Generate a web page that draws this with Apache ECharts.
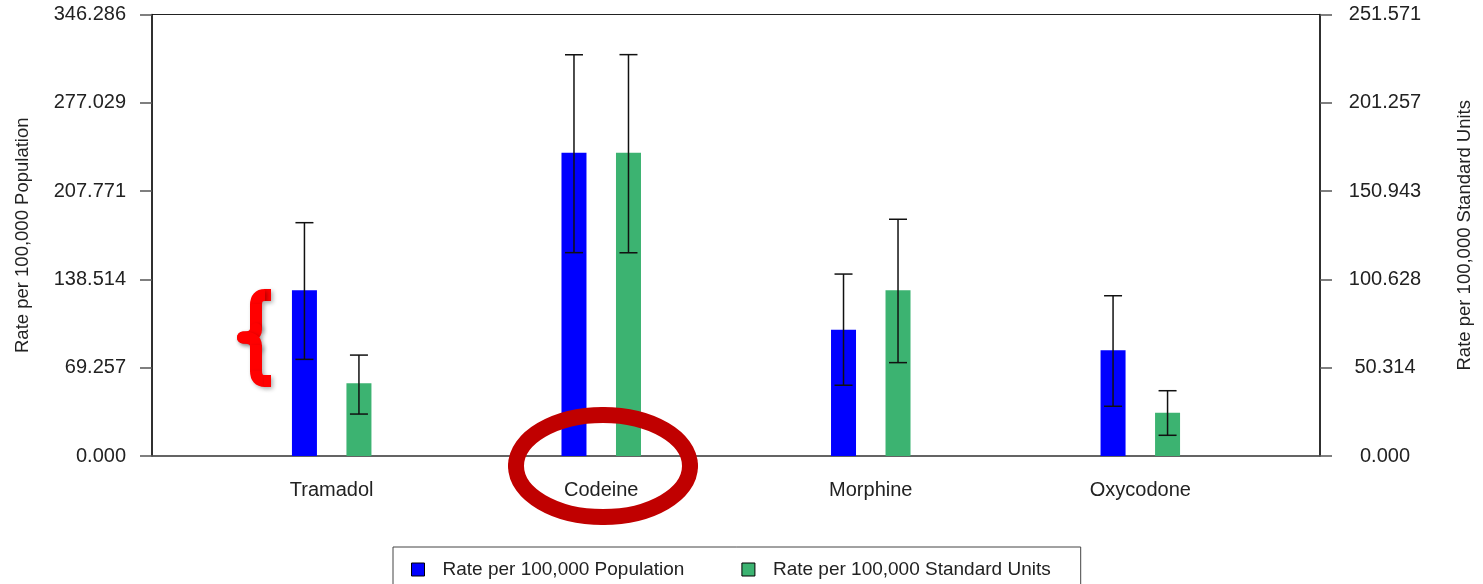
<!DOCTYPE html>
<html>
<head>
<meta charset="utf-8">
<script src="https://cdn.jsdelivr.net/npm/echarts@6/dist/echarts.min.js"></script>
<style>html,body{margin:0;padding:0;background:#fff;}#c{width:1483px;height:584px;}</style>
</head>
<body>
<div id="c"></div>
<script>
// ---- data ----
const categories = ['Tramadol', 'Codeine', 'Morphine', 'Oxycodone'];
const popRate = [130.0, 237.9, 99.1, 82.9];
const popLow = [75.8, 159.5, 55.5, 39.0];
const popHigh = [183.0, 314.7, 142.7, 125.7];
const unitRate = [41.4, 172.8, 94.4, 24.7];
const unitLow = [23.9, 115.8, 53.2, 11.8];
const unitHigh = [57.5, 228.7, 134.9, 37.2];
const leftMax = 346.2858;
const rightMax = 251.571;
const seriesNames = ['Rate per 100,000 Population', 'Rate per 100,000 Standard Units'];
const axisNames = ['Rate per 100,000 Population', 'Rate per 100,000 Standard Units'];

// ---- layout helpers (category slots padded so categories sit 3 slots apart) ----
const slots = 14;
const slotIndex = categories.map((c, i) => 2 + 3 * i);
const axisCats = Array.from({length: slots}, () => '');
categories.forEach((c, i) => { axisCats[slotIndex[i]] = c; });

const barWidth = 25;
const barGapRatio = 1.18;
const halfOffset = (barWidth + barWidth * barGapRatio) / 2;

const FONT = 'Liberation Sans, Arial, sans-serif';
const TXT = '#222';

function barData(vals) { return vals.map((v, i) => [slotIndex[i], v]); }
function errData(lo, hi) { return lo.map((v, i) => [slotIndex[i], v, hi[i]]); }
function errRender(sign) {
  return function (params, api) {
    const pLo = api.coord([api.value(0), api.value(1)]);
    const pHi = api.coord([api.value(0), api.value(2)]);
    const x = pLo[0] + sign * halfOffset;
    const cap = 9;
    const st = {stroke: '#111', lineWidth: 1.5};
    return {
      type: 'group',
      children: [
        {type: 'line', shape: {x1: x, y1: pLo[1], x2: x, y2: pHi[1]}, style: st},
        {type: 'line', shape: {x1: x - cap, y1: pHi[1], x2: x + cap, y2: pHi[1]}, style: st},
        {type: 'line', shape: {x1: x - cap, y1: pLo[1], x2: x + cap, y2: pLo[1]}, style: st}
      ]
    };
  };
}

// ---- annotation shapes (not data) ----
function ellipseCurves(cx, cy, rx, ry, style) {
  const k = 0.5523;
  const q = [
    [cx + rx, cy, cx + rx, cy + k * ry, cx + k * rx, cy + ry, cx, cy + ry],
    [cx, cy + ry, cx - k * rx, cy + ry, cx - rx, cy + k * ry, cx - rx, cy],
    [cx - rx, cy, cx - rx, cy - k * ry, cx - k * rx, cy - ry, cx, cy - ry],
    [cx, cy - ry, cx + k * rx, cy - ry, cx + rx, cy - k * ry, cx + rx, cy]
  ];
  return q.map(a => ({
    type: 'bezierCurve', z: 100,
    shape: {x1: a[0], y1: a[1], cpx1: a[2], cpy1: a[3], cpx2: a[4], cpy2: a[5], x2: a[6], y2: a[7]},
    style: style
  }));
}
const braceStyle = {fill: null, stroke: '#FF0000', lineWidth: 12, lineCap: 'butt', shadowBlur: 4, shadowColor: 'rgba(0,0,0,0.3)', shadowOffsetX: 2, shadowOffsetY: 2};
const braceRound = Object.assign({}, braceStyle, {lineCap: 'round'});
const braceParts = [
  {type: 'line', shape: {x1: 264, y1: 295, x2: 271, y2: 295}, style: braceStyle},
  {type: 'bezierCurve', shape: {x1: 256, y1: 305, cpx1: 256, cpy1: 295, x2: 265, y2: 295}, style: braceStyle},
  {type: 'line', shape: {x1: 256, y1: 304, x2: 256, y2: 330}, style: braceStyle},
  {type: 'bezierCurve', shape: {x1: 256, y1: 329, cpx1: 256, cpy1: 337.5, x2: 243, y2: 337.5}, style: braceRound},
  {type: 'bezierCurve', shape: {x1: 243, y1: 337.5, cpx1: 256, cpy1: 337.5, x2: 256, y2: 346}, style: braceRound},
  {type: 'line', shape: {x1: 256, y1: 345, x2: 256, y2: 372}, style: braceStyle},
  {type: 'bezierCurve', shape: {x1: 256, y1: 371, cpx1: 256, cpy1: 381, x2: 265, y2: 381}, style: braceStyle},
  {type: 'line', shape: {x1: 264, y1: 381, x2: 271, y2: 381}, style: braceStyle}
].map(p => Object.assign(p, {z: 100}));

const chart = echarts.init(document.getElementById('c'), null, {renderer: 'canvas'});
chart.setOption({
  backgroundColor: '#fff',
  animation: false,
  textStyle: {fontFamily: FONT},
  grid: {left: 152, right: 163, top: 14.5, bottom: 128, show: true, borderColor: '#222', borderWidth: 1, backgroundColor: 'transparent', containLabel: false, outerBoundsMode: 'none'},
  legend: {
    data: seriesNames,
    left: 393, top: 547,
    orient: 'horizontal',
    itemWidth: 13, itemHeight: 13, itemGap: 57,
    padding: [13, 30, 30, 18],
    borderColor: '#444', borderWidth: 1,
    icon: 'rect',
    itemStyle: {borderColor: '#000', borderWidth: 1},
    textStyle: {fontSize: 19, color: TXT, fontFamily: FONT, padding: [0, 0, 0, 13]}
  },
  xAxis: {
    type: 'category',
    data: axisCats,
    boundaryGap: false,
    axisLine: {lineStyle: {color: '#555', width: 1.5}},
    axisTick: {show: false},
    splitLine: {show: false},
    axisLabel: {interval: 0, fontSize: 20, color: TXT, fontFamily: FONT, margin: 24}
  },
  yAxis: [
    {
      type: 'value', min: 0, max: leftMax, interval: leftMax / 5,
      name: axisNames[0], nameLocation: 'middle', nameGap: 120, nameRotate: 90,
      nameTextStyle: {fontSize: 18.5, color: TXT, fontFamily: FONT},
      axisLine: {show: true, lineStyle: {color: '#111', width: 1.5}},
      axisTick: {show: true, length: 12, lineStyle: {color: '#555', width: 1.5}},
      splitLine: {show: false},
      axisLabel: {fontSize: 20, color: TXT, fontFamily: FONT, margin: 26, formatter: v => v.toFixed(3)}
    },
    {
      type: 'value', min: 0, max: rightMax, interval: rightMax / 5, position: 'right',
      name: axisNames[1], nameLocation: 'middle', nameGap: 135, nameRotate: 90,
      nameTextStyle: {fontSize: 18.5, color: TXT, fontFamily: FONT},
      axisLine: {show: true, lineStyle: {color: '#111', width: 1.5}},
      axisTick: {show: true, length: 12, lineStyle: {color: '#555', width: 1.5}},
      splitLine: {show: false},
      axisLabel: {fontSize: 20, color: TXT, fontFamily: FONT, margin: 65, align: 'center', formatter: v => v.toFixed(3)}
    }
  ],
  series: [
    {name: seriesNames[0], type: 'bar', yAxisIndex: 0, data: barData(popRate), barWidth: barWidth, barGap: (barGapRatio * 100) + '%', itemStyle: {color: '#0000FF'}, z: 2},
    {name: seriesNames[1], type: 'bar', yAxisIndex: 1, data: barData(unitRate), barWidth: barWidth, barGap: (barGapRatio * 100) + '%', itemStyle: {color: '#3CB371'}, z: 2},
    {name: 'popErr', type: 'custom', yAxisIndex: 0, data: errData(popLow, popHigh), renderItem: errRender(-1), z: 5, encode: {x: 0, y: [1, 2]}},
    {name: 'unitErr', type: 'custom', yAxisIndex: 1, data: errData(unitLow, unitHigh), renderItem: errRender(1), z: 5, encode: {x: 0, y: [1, 2]}}
  ],
  graphic: braceParts.concat(ellipseCurves(603, 466, 87, 51, {fill: null, stroke: '#C00000', lineWidth: 16, lineCap: 'round'}))
});
</script>
</body>
</html>
